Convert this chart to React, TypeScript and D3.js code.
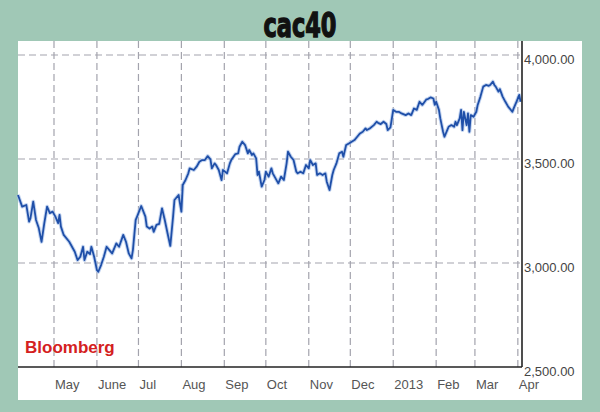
import React from "react";
import * as d3 from "d3";

const dates: string[] = [
  "2012-04-05","2012-04-08","2012-04-11","2012-04-13","2012-04-14","2012-04-16","2012-04-18","2012-04-20","2012-04-22","2012-04-24",
  "2012-04-26","2012-04-28","2012-04-30","2012-05-02","2012-05-04","2012-05-05","2012-05-06","2012-05-08","2012-05-12","2012-05-16",
  "2012-05-18","2012-05-20","2012-05-22","2012-05-23","2012-05-25","2012-05-27","2012-05-28","2012-05-30","2012-06-01","2012-06-02",
  "2012-06-04","2012-06-06","2012-06-08","2012-06-10","2012-06-12","2012-06-15","2012-06-17","2012-06-20","2012-06-22","2012-06-24",
  "2012-06-26","2012-06-27","2012-06-29","2012-06-30","2012-07-03","2012-07-06","2012-07-07","2012-07-09","2012-07-11","2012-07-12",
  "2012-07-14","2012-07-16","2012-07-18","2012-07-20","2012-07-22","2012-07-24","2012-07-26","2012-07-27","2012-07-30","2012-07-31",
  "2012-08-01","2012-08-02","2012-08-04","2012-08-06","2012-08-07","2012-08-10","2012-08-12","2012-08-14","2012-08-16","2012-08-18",
  "2012-08-20","2012-08-22","2012-08-23","2012-08-25","2012-08-26","2012-08-28","2012-08-30","2012-08-31","2012-09-03","2012-09-05",
  "2012-09-06","2012-09-09","2012-09-11","2012-09-12","2012-09-14","2012-09-16","2012-09-18","2012-09-19","2012-09-21","2012-09-22",
  "2012-09-24","2012-09-25","2012-09-26","2012-09-28","2012-09-30","2012-10-01","2012-10-03","2012-10-05","2012-10-06","2012-10-08",
  "2012-10-10","2012-10-12","2012-10-14","2012-10-16","2012-10-17","2012-10-19","2012-10-21","2012-10-23","2012-10-24","2012-10-26",
  "2012-10-28","2012-10-30","2012-11-01","2012-11-02","2012-11-04","2012-11-06","2012-11-07","2012-11-09","2012-11-11","2012-11-13",
  "2012-11-14","2012-11-16","2012-11-18","2012-11-19","2012-11-21","2012-11-23","2012-11-25","2012-11-26","2012-11-28","2012-11-30",
  "2012-12-02","2012-12-04","2012-12-06","2012-12-08","2012-12-10","2012-12-12","2012-12-13","2012-12-15","2012-12-18","2012-12-20",
  "2012-12-21","2012-12-23","2012-12-25","2012-12-27","2012-12-28","2012-12-30","2013-01-01","2013-01-03","2013-01-05","2013-01-07",
  "2013-01-10","2013-01-12","2013-01-14","2013-01-16","2013-01-18","2013-01-20","2013-01-22","2013-01-25","2013-01-26","2013-01-28",
  "2013-01-30","2013-01-31","2013-02-01","2013-02-03","2013-02-04","2013-02-05","2013-02-06","2013-02-07","2013-02-09","2013-02-10",
  "2013-02-12","2013-02-14","2013-02-15","2013-02-16","2013-02-18","2013-02-19","2013-02-20","2013-02-21","2013-02-23","2013-02-24",
  "2013-02-25","2013-02-26","2013-02-28","2013-03-02","2013-03-03","2013-03-05","2013-03-07","2013-03-09","2013-03-11","2013-03-12",
  "2013-03-14","2013-03-15","2013-03-16","2013-03-18","2013-03-19","2013-03-21","2013-03-23","2013-03-25","2013-03-28","2013-03-29",
  "2013-03-31","2013-04-02","2013-04-03",
];

const values: number[] = [
  3327,3271,3279,3199,3216,3295,3207,3168,3102,3192,
  3271,3240,3247,3223,3192,3231,3175,3135,3102,3054,
  3014,3030,3078,3014,3054,3043,3078,3030,2966,2958,
  2990,3030,3078,3062,3046,3094,3078,3135,3102,3046,
  3022,3062,3207,3223,3274,3223,3175,3166,3175,3150,
  3183,3188,3263,3207,3143,3082,3223,3303,3327,3286,
  3247,3375,3399,3431,3455,3447,3463,3487,3495,3495,
  3514,3498,3455,3479,3471,3447,3399,3447,3431,3479,
  3495,3524,3527,3559,3583,3567,3527,3543,3519,3527,
  3503,3423,3439,3367,3399,3439,3415,3455,3431,3407,
  3383,3415,3399,3479,3535,3511,3495,3439,3431,3439,
  3431,3471,3455,3495,3471,3479,3423,3431,3423,3431,
  3391,3351,3423,3447,3479,3527,3535,3511,3567,3575,
  3583,3591,3607,3623,3631,3647,3639,3647,3663,3679,
  3674,3668,3679,3668,3639,3652,3736,3727,3727,3719,
  3711,3719,3711,3743,3736,3775,3760,3787,3788,3796,
  3791,3760,3775,3736,3695,3663,3631,3607,3639,3655,
  3663,3655,3679,3663,3695,3736,3639,3727,3663,3719,
  3631,3711,3703,3727,3760,3800,3848,3856,3852,3856,
  3872,3856,3848,3824,3836,3800,3775,3752,3727,3743,
  3775,3808,3775,
];

const monthTicks: string[] = [
  "2012-05-01","2012-06-01","2012-07-01","2012-08-01","2012-09-01","2012-10-01",
  "2012-11-01","2012-12-01","2013-01-01","2013-02-01","2013-03-01","2013-04-01",
];
const monthLabels: string[] = ["May","June","Jul","Aug","Sep","Oct","Nov","Dec","2013","Feb","Mar","Apr"];
const yTicks: number[] = [2500, 3000, 3500, 4000];

const W = 600, H = 412;
const plotL = 18, plotR = 522, plotT = 41, plotB = 367;

export default function App() {
  const parse = d3.timeParse("%Y-%m-%d");
  const data = dates.map((d, i) => ({ date: parse(d) as Date, value: values[i] }));
  const x = d3.scaleTime().domain([new Date(2012, 3, 5), new Date(2013, 3, 4)]).range([plotL, plotR]);
  const y = d3.scaleLinear().domain([2500, 4000]).range([plotB, 55]);
  const line = d3.line<{ date: Date; value: number }>().x(d => x(d.date)).y(d => y(d.value));
  const path = line(data) || "";
  const fmt = d3.format(",.2f");
  const ticks = monthTicks.map(t => parse(t) as Date);

  return (
    <svg width={W} height={H} style={{ position: "absolute", left: 0, top: 0, display: "block" }}>
      <rect x={0} y={0} width={W} height={H} fill="#a0c8b6" />
      <rect x={plotL} y={plotT} width={582 - plotL} height={400 - plotT} fill="#ffffff" />
      <text x={300} y={37} textAnchor="middle" fontFamily="'DejaVu Sans Condensed', 'DejaVu Sans', sans-serif"
        fontWeight="bold" fontSize={34} fill="#111" stroke="#111" strokeWidth={1.3} textLength={73} lengthAdjust="spacingAndGlyphs">cac40</text>
      {yTicks.filter(v => v > 2500).map(v => (
        <line key={"h" + v} x1={plotL} x2={plotR} y1={y(v)} y2={y(v)} stroke="#a3a3ad" strokeWidth={1.2} strokeDasharray="7,4" />
      ))}
      {ticks.map((t, i) => (
        <line key={"v" + i} x1={x(t)} x2={x(t)} y1={plotT} y2={plotB} stroke="#a3a3ad" strokeWidth={1.2} strokeDasharray="7,4" />
      ))}
      <path d={path} fill="none" stroke="#a9c2ea" strokeWidth={3.8} strokeOpacity={0.7} strokeLinejoin="round" />
      <path d={path} fill="none" stroke="#1f4fa8" strokeWidth={1.8} strokeLinejoin="round" />
      <line x1={plotL} x2={plotR} y1={plotB} y2={plotB} stroke="#222" strokeWidth={1.6} />
      <line x1={plotR} x2={plotR} y1={plotT} y2={plotB} stroke="#222" strokeWidth={1.6} />
      {yTicks.map(v => (
        <text key={"yl" + v} x={524} y={y(v) + 9} fontFamily="'Liberation Sans', Arial, sans-serif" fontSize={13} fill="#444">{fmt(v)}</text>
      ))}
      {ticks.map((t, i) => (
        <text key={"xl" + i} x={x(t) + 1} y={389} fontFamily="'Liberation Sans', Arial, sans-serif" fontSize={13} fill="#555">{monthLabels[i]}</text>
      ))}
      <text x={25} y={353} fontFamily="'Liberation Sans', Arial, sans-serif" fontWeight="bold" fontSize={17} fill="#d42020">Bloomberg</text>
    </svg>
  );
}
